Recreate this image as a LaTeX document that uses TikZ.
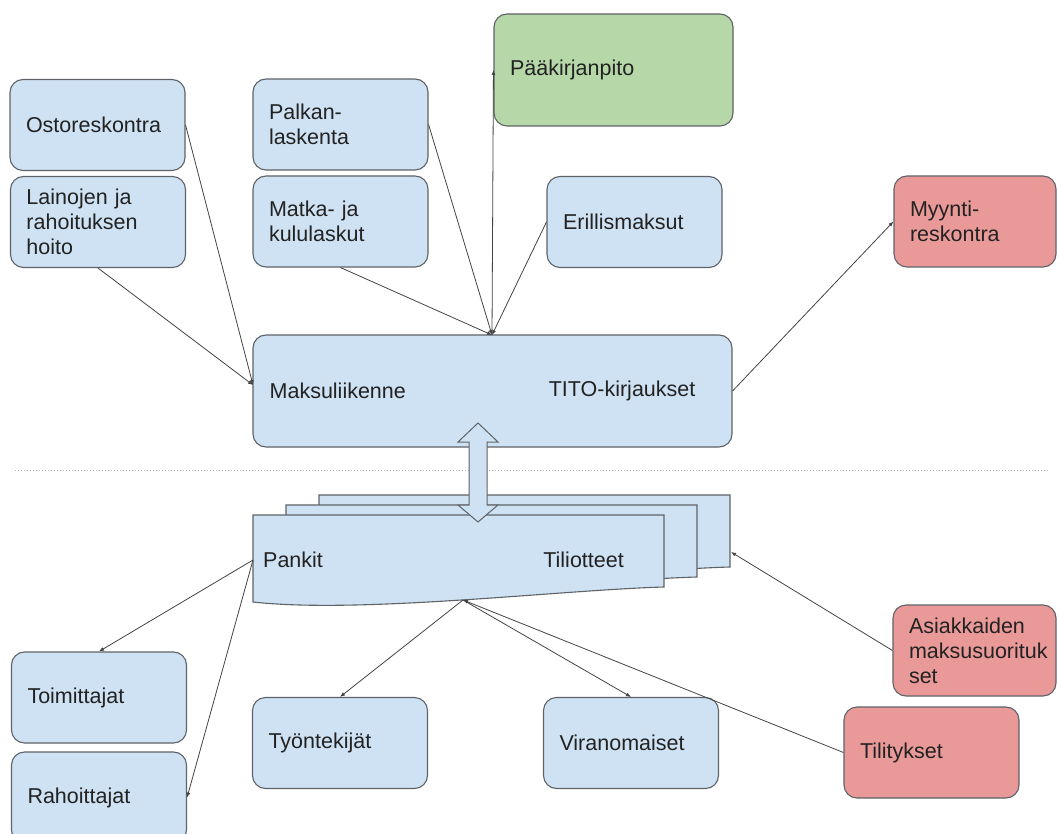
\documentclass[tikz,border=0pt]{standalone}
\usepackage{fontspec}
\setmainfont{Liberation Sans}
\usepackage{tikz}
\usetikzlibrary{arrows.meta}

\definecolor{boxblue}{HTML}{CFE2F3}
\definecolor{boxgreen}{HTML}{B6D7A8}
\definecolor{boxred}{HTML}{EA9999}
\definecolor{edgegray}{HTML}{5F6368}
\definecolor{linegray}{HTML}{444444}
\definecolor{txtgray}{HTML}{222222}
\newcommand{\boxfont}{\fontsize{21.5pt}{25pt}\selectfont}

\begin{document}
\begin{tikzpicture}[x=1pt,y=-1pt,
    >={Latex[length=5pt,width=4pt]},
    box/.style={draw=edgegray, line width=1.1pt, rounded corners=13pt, fill=boxblue,
        inner xsep=16pt, inner ysep=0pt, text width=143pt, minimum height=91pt,
        align=left, font=\boxfont, text=txtgray},
    greenbox/.style={box, fill=boxgreen},
    redbox/.style={box, fill=boxred},
    lbl/.style={inner sep=0pt, font=\boxfont, text=txtgray},
    sheet/.style={draw=edgegray, line width=1.1pt, fill=boxblue},
    conn/.style={->, draw=linegray, line width=0.8pt}]
            % Frame
            \useasboundingbox (0,0) rectangle (1058,834);
            \clip (0,0) rectangle (1058,834);
            \fill[white] (0,0) rectangle (1058,834);

            % Upper boxes
            \node[box] (osto) at (97.5,125) {Ostoreskontra};
            \node[box] (lainat) at (98,222) {Lainojen ja\\rahoituksen\\hoito};
            \node[box] (palkka) at (340.5,124.5) {Palkan-\\laskenta};
            \node[box] (matka) at (340.5,221.5) {Matka- ja\\kululaskut};
            \node[greenbox, text width=207pt, minimum height=112pt] (paakirja) at (613.5,70) {Pääkirjanpito};
            \node[box] (erill) at (634.5,222) {Erillismaksut};
            \node[redbox, text width=130pt] (myynti) at (975,221.5) {Myynti-\\reskontra};

            % Maksuliikenne
            \node[box, text width=447pt, minimum height=112pt] (maksu) at (492.5,391) {};
            \node[lbl, anchor=west] (maksuL) at ([xshift=17pt]maksu.west) {Maksuliikenne};
            \node[lbl, anchor=east] (tito) at ([xshift=-37pt]maksu.east) {TITO-kirjaukset};
            \coordinate (maksuW) at (253,385);
            \coordinate (hub) at (492,335);

            % Separator
            \draw[dotted, gray!60, line width=1pt] (15,470) -- (1050,470);

            % Bank statements (stack of sheets)
            \foreach \dx/\dy in {66/-20,33/-10,0/0}
                \draw[sheet, shift={(\dx,\dy)}] (253,515) -- (664,515) -- (664,587)
                    .. controls (560,590) and (360,614) .. (253,602) -- cycle;
            \node[lbl, anchor=west] (pankit) at (263,560) {Pankit};
            \node[lbl, anchor=east] (tiliot) at (624,560) {Tiliotteet};
            \coordinate (pankitL) at (253,560);
            \coordinate (docbot) at (463,600);
            \coordinate (stackR) at (731,552);

            % Double arrow
            \draw[sheet, line width=1pt] (478,423) -- (498,442) -- (487,442) -- (487,505) -- (498,505)
                -- (478,522) -- (458,505) -- (469,505) -- (469,442) -- (458,442) -- cycle;

            % Lower boxes
            \node[box] (toim) at (99,697.5) {Toimittajat};
            \node[box] (rahoit) at (99,797.5) {Rahoittajat};
            \node[box] (tyon) at (340,743) {Työntekijät};
            \node[box] (viran) at (631,743) {Viranomaiset};
            \node[redbox, text width=131pt] (asiak) at (974.5,650.5) {Asiakkaiden\\maksusuorituk\\set};
            \node[redbox] (tilit) at (931.5,752.5) {Tilitykset};

            % Connectors
            \draw[conn] (osto.east) -- (maksuW);
            \draw[conn] (lainat.south) -- (maksuW);
            \draw[conn] (palkka.east) -- (hub);
            \draw[conn] (matka.south) -- (hub);
            \draw[conn] (erill.west) -- (hub);
            \draw[conn] (hub) -- (paakirja.west);
            \draw[conn] (maksu.east) -- (myynti.west);
            \draw[conn] (pankitL) -- (toim.north);
            \draw[conn] (pankitL) -- (rahoit.east);
            \draw[conn] (docbot) -- (tyon.north);
            \draw[conn] (docbot) -- (viran.north);
            \draw[conn] (tilit.west) -- (docbot);
            \draw[conn] (asiak.west) -- (stackR);
\end{tikzpicture}
\end{document}
